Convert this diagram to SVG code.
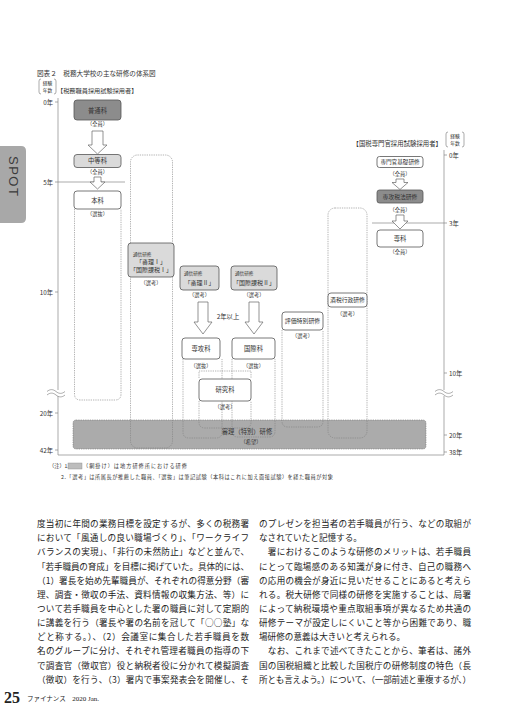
<svg xmlns="http://www.w3.org/2000/svg" width="509" height="720" viewBox="0 0 509 720">
<style>
.t{font-family:"Noto Sans CJK JP","Noto Sans",sans-serif;fill:#333}
.c{text-anchor:middle}
.e{text-anchor:end}
.s{font-size:5.2px}
.m{font-size:6.3px}
.xs{font-size:4.6px}
.ax{stroke:#888;stroke-width:0.7;fill:none}
.dash{stroke:#808080;stroke-width:0.6;fill:none;stroke-dasharray:1.3 1}
.box{stroke:#555;stroke-width:0.8}
.dk{fill:#8c8c8c}
.lt{fill:#dadada}
.wh{fill:#fff}
.arr{fill:#fff;stroke:#666;stroke-width:0.7}
.body{font-family:"Noto Sans CJK JP",sans-serif;font-size:8.6px;fill:#222}
</style>

<!-- SPOT tab -->
<g id="spot-tab">
<path d="M0,146 H21 Q26,146 26,151 V218 Q26,223 21,223 H0 Z" fill="#a8a8a8"/>
<text x="9" y="156" transform="rotate(90 9 156)" font-family="Liberation Sans,sans-serif" font-size="13" fill="#3a3a3a" letter-spacing="1.5">SPOT</text>
</g>

<!-- title and headers -->
<g id="title">
<text class="t" x="37" y="75.5" font-size="6.6">図表２　税務大学校の主な研修の体系図</text>
<text class="t" x="57" y="93" font-size="6.2">【税務職員採用試験採用者】</text>
<text class="t e" x="442" y="145.5" font-size="6.4">【国税専門官採用試験採用者】</text>
</g>
<g id="exp-left">
<path class="ax" d="M41,79 Q39,79 39,81 V92 Q39,94 41,94 M54,79 Q56,79 56,81 V92 Q56,94 54,94"/>
<text class="t c" x="47.5" y="84.5" font-size="4.8">経験</text>
<text class="t c" x="47.5" y="91.5" font-size="4.8">年数</text>
</g>
<g id="exp-right">
<path class="ax" d="M448,132 Q446,132 446,134 V145 Q446,147 448,147 M462,132 Q464,132 464,134 V145 Q464,147 462,147"/>
<text class="t c" x="455" y="137.5" font-size="4.8">経験</text>
<text class="t c" x="455" y="144.5" font-size="4.8">年数</text>
</g>

<!-- band (regional training) -->
<g id="band">
<rect x="73" y="420" width="353" height="29" rx="3" fill="#ababab" stroke="#777" stroke-width="0.6" stroke-dasharray="1.3 1"/>
<text class="t c m" x="247" y="434">審理（特別）研修</text>
<text class="t c s" x="251" y="444">（希望）</text>
</g>

<!-- axes -->
<g id="axes">
<path class="ax" d="M58,98 V455 H444 V150"/>
<path class="ax" d="M55,102 H58 M55,292 H58 M55,413 H58 M55,450 H58"/>
<path class="ax" d="M55,182 H125"/>
<path class="ax" d="M444,155 H447 M444,373 H447 M444,435 H447 M444,452 H447"/>
<path class="ax" d="M372,223 H447"/>
<rect x="55" y="390" width="6" height="6" fill="#fff"/>
<rect x="441" y="390" width="6" height="6" fill="#fff"/>
<path class="ax" d="M47,391.5 c3,-2.5 6,-2.5 9,0 s6,2.5 9,0 M47,395 c3,-2.5 6,-2.5 9,0 s6,2.5 9,0"/>
<path class="ax" d="M435,391.5 c3,-2.5 6,-2.5 9,0 s6,2.5 9,0 M435,395 c3,-2.5 6,-2.5 9,0 s6,2.5 9,0"/>
<text class="t e m" x="53" y="104.5">0年</text>
<text class="t e m" x="53" y="184.5">5年</text>
<text class="t e m" x="53" y="294.5">10年</text>
<text class="t e m" x="53" y="415.5">20年</text>
<text class="t e m" x="53" y="452.5">42年</text>
<text class="t m" x="449" y="157.5">0年</text>
<text class="t m" x="449" y="225.5">3年</text>
<text class="t m" x="449" y="375.5">10年</text>
<text class="t m" x="449" y="437.5">20年</text>
<text class="t m" x="449" y="454.5">38年</text>
</g>

<!-- connectors: dashed duration columns and arrows -->
<g id="connectors">
<path class="dash" d="M74.5,209 V394 Q74.5,400 80.5,400 H115 Q121,400 121,394 V209"/>
<rect class="dash" x="130.5" y="155" width="42" height="293" rx="7"/>
<path class="dash" d="M183,359 V432 Q183,438 189,438 H216 Q222,438 222,432 V359"/>
<path class="dash" d="M232,359 V431 Q232,437 238,437 H269 Q275,437 275,431 V359"/>
<path class="dash" d="M199,378 V371 H251 V378 M199,401 V422 Q199,428 205,428 H245 Q251,428 251,422 V401"/>
<path class="dash" d="M282,330 V421 Q282,427 288,427 H317 Q323,427 323,421 V330"/>
<rect class="dash" x="328" y="208" width="39" height="230" rx="7"/>
<path class="arr" d="M92,131 H103 V145 H107 L97.5,154 L88,145 H92 Z"/>
<path class="arr" d="M94,177 H101 V182 H105 L97.5,189 L90,182 H94 Z"/>
<path class="arr" d="M396,179 H404 V182.5 H408 L400,189.5 L392,182.5 H396 Z"/>
<path class="arr" d="M396,215 H404 V221 H408 L400,229 L392,221 H396 Z"/>
<path class="arr" d="M198,302 H208 V322 H212 L203,334 L194,322 H198 Z"/>
<path class="arr" d="M249,302 H259 V322 H263 L254,334 L245,322 H249 Z"/>
<text class="t c" x="228" y="318.5" font-size="6.4">2年以上</text>
</g>

<!-- nodes -->
<g id="futsuka">
<rect class="box dk" x="74" y="100" width="47" height="20" rx="3"/>
<text class="t c m" x="97.5" y="112.5" fill="#111">普通科</text>
<text class="t c s" x="97.5" y="126">（全員）</text>
</g>
<g id="chutoka">
<rect class="box lt" x="74" y="154.5" width="47" height="13" rx="3"/>
<text class="t c m" x="97.5" y="163.3">中等科</text>
<text class="t c s" x="97.5" y="174">（全員）</text>
</g>
<g id="honka">
<rect class="box wh" x="74" y="191" width="47" height="18" rx="3"/>
<text class="t c m" x="97.5" y="202.5">本科</text>
<text class="t c s" x="97.5" y="216">（選抜）</text>
</g>
<g id="tsushin-1">
<rect class="box lt" x="128" y="243" width="46" height="34" rx="3"/>
<text class="t xs" x="133" y="255.5">通信研修</text>
<text class="t c" x="151" y="263.5" font-size="6">「審理Ⅰ」</text>
<text class="t c" x="151" y="272" font-size="6">「国際課税Ⅰ」</text>
<text class="t c s" x="151" y="284.5">（選考）</text>
</g>
<g id="tsushin-shinri2">
<rect class="box lt" x="180" y="266" width="39" height="24" rx="3"/>
<text class="t xs" x="184" y="274.5">通信研修</text>
<text class="t c" x="199.5" y="284.5" font-size="6">「審理Ⅱ」</text>
<text class="t c s" x="199.5" y="296.5">（選考）</text>
</g>
<g id="tsushin-kokusai2">
<rect class="box lt" x="231" y="266" width="46" height="24" rx="3"/>
<text class="t xs" x="235" y="274.5">通信研修</text>
<text class="t c" x="254" y="284.5" font-size="6">「国際課税Ⅱ」</text>
<text class="t c s" x="254" y="296.5">（選考）</text>
</g>
<g id="senkoka">
<rect class="box wh" x="182" y="338" width="38" height="21" rx="3"/>
<text class="t c m" x="201" y="350.8">専攻科</text>
<text class="t c s" x="201" y="368">（選抜）</text>
</g>
<g id="kokusaika">
<rect class="box wh" x="232" y="338" width="43" height="21" rx="3"/>
<text class="t c m" x="253.5" y="350.8">国際科</text>
<text class="t c s" x="253.5" y="368">（選抜）</text>
</g>
<g id="kenkyuka">
<rect class="box wh" x="199" y="379" width="52" height="22" rx="3"/>
<text class="t c m" x="225" y="392.3">研究科</text>
<text class="t c s" x="225" y="409">（選考）</text>
</g>
<g id="hyoka">
<rect class="box wh" x="282" y="312" width="41" height="18" rx="3"/>
<text class="t c" x="302.5" y="323.3" font-size="5.9">評価特別研修</text>
<text class="t c s" x="302.5" y="337.5">（選考）</text>
</g>
<g id="shuzei">
<rect class="box wh" x="328" y="293" width="39" height="14" rx="3"/>
<text class="t c" x="347.5" y="302.3" font-size="5.8">酒税行政研修</text>
<text class="t c s" x="347.5" y="315.5">（選考）</text>
</g>
<g id="kiso">
<rect class="box wh" x="377" y="156.5" width="46" height="11" rx="2.5"/>
<text class="t c" x="400" y="164.2" font-size="5.6">専門官基礎研修</text>
<text class="t c s" x="400" y="175.5">（全員）</text>
</g>
<g id="zeiho">
<rect class="box dk" x="377" y="190" width="46" height="13" rx="2.5"/>
<text class="t c" x="400" y="198.8" font-size="5.8" fill="#111">専攻税法研修</text>
<text class="t c s" x="400" y="211.5">（全員）</text>
</g>
<g id="senka">
<rect class="box wh" x="377" y="230" width="46" height="17" rx="3"/>
<text class="t c m" x="400" y="240.8">専科</text>
<text class="t c s" x="400" y="254">（全員）</text>
</g>

<!-- notes -->
<g id="notes">
<text class="t s" x="49" y="468">（注）1.</text>
<rect x="68" y="463" width="14" height="6" fill="#bdbdbd" stroke="#888" stroke-width="0.4"/>
<text class="t s" x="83" y="468" textLength="104" lengthAdjust="spacing">（網掛け）は地方研修所における研修</text>
<text class="t s" x="61" y="478.5" textLength="272" lengthAdjust="spacing">2.「選考」は所属長が推薦した職員、「選抜」は筆記試験（本科はこれに加え面接試験）を経た職員が対象</text>
</g>

<!-- body text -->
<g id="body-left" class="body">
<text x="37" y="527" textLength="212" lengthAdjust="spacing">度当初に年間の業務目標を設定するが、多くの税務署</text>
<text x="37" y="541.2" textLength="212" lengthAdjust="spacing">において「風通しの良い職場づくり」、「ワークライフ</text>
<text x="37" y="555.3" textLength="212" lengthAdjust="spacing">バランスの実現」、「非行の未然防止」などと並んで、</text>
<text x="37" y="569.5" textLength="212" lengthAdjust="spacing">「若手職員の育成」を目標に掲げていた。具体的には、</text>
<text x="37" y="583.6" textLength="212" lengthAdjust="spacing">（1）署長を始め先輩職員が、それぞれの得意分野（審</text>
<text x="37" y="597.8" textLength="212" lengthAdjust="spacing">理、調査・徴収の手法、資料情報の収集方法、等）に</text>
<text x="37" y="611.9" textLength="212" lengthAdjust="spacing">ついて若手職員を中心とした署の職員に対して定期的</text>
<text x="37" y="626.1" textLength="212" lengthAdjust="spacing">に講義を行う（署長や署の名前を冠して「○○塾」な</text>
<text x="37" y="640.2" textLength="212" lengthAdjust="spacing">どと称する。）、（2）会議室に集合した若手職員を数</text>
<text x="37" y="654.4" textLength="212" lengthAdjust="spacing">名のグループに分け、それぞれ管理者職員の指導の下</text>
<text x="37" y="668.5" textLength="212" lengthAdjust="spacing">で調査官（徴収官）役と納税者役に分かれて模擬調査</text>
<text x="37" y="682.7" textLength="212" lengthAdjust="spacing">（徴収）を行う、（3）署内で事案発表会を開催し、そ</text>
</g>
<g id="body-right" class="body">
<text x="259" y="527" textLength="212" lengthAdjust="spacing">のプレゼンを担当者の若手職員が行う、などの取組が</text>
<text x="259" y="541.2">なされていたと記憶する。</text>
<text x="259" y="555.3" textLength="212" lengthAdjust="spacing">　署におけるこのような研修のメリットは、若手職員</text>
<text x="259" y="569.5" textLength="212" lengthAdjust="spacing">にとって臨場感のある知識が身に付き、自己の職務へ</text>
<text x="259" y="583.6" textLength="212" lengthAdjust="spacing">の応用の機会が身近に見いだせることにあると考えら</text>
<text x="259" y="597.8" textLength="212" lengthAdjust="spacing">れる。税大研修で同様の研修を実施することは、局署</text>
<text x="259" y="611.9" textLength="212" lengthAdjust="spacing">によって納税環境や重点取組事項が異なるため共通の</text>
<text x="259" y="626.1" textLength="212" lengthAdjust="spacing">研修テーマが設定しにくいこと等から困難であり、職</text>
<text x="259" y="640.2">場研修の意義は大きいと考えられる。</text>
<text x="259" y="654.4" textLength="212" lengthAdjust="spacing">　なお、これまで述べてきたことから、筆者は、諸外</text>
<text x="259" y="668.5" textLength="212" lengthAdjust="spacing">国の国税組織と比較した国税庁の研修制度の特色（長</text>
<text x="259" y="682.7" textLength="212" lengthAdjust="spacing">所とも言えよう。）について、（一部前述と重複するが、）</text>
</g>

<!-- footer -->
<g id="footer">
<text x="4" y="703" font-family="Liberation Serif,serif" font-weight="bold" font-size="16" fill="#222">25</text>
<text x="27" y="701" font-family="Noto Sans CJK JP,sans-serif" font-size="6.5" fill="#222">ファイナンス　<tspan font-family="Liberation Serif,serif" font-size="7">2020 Jan.</tspan></text>
</g>
</svg>
